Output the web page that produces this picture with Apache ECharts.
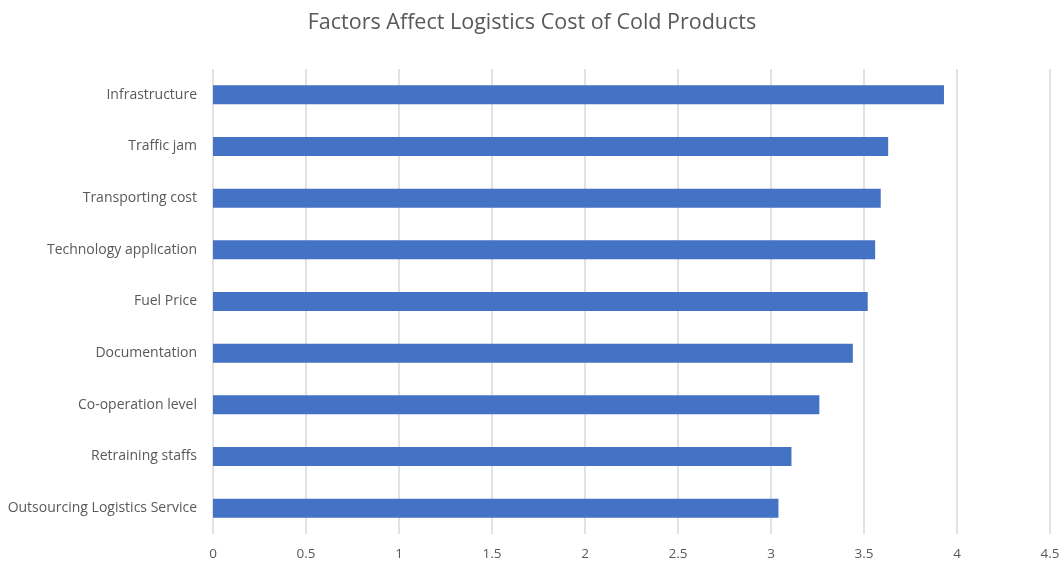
<!DOCTYPE html>
<html><head><meta charset="utf-8">
<script src="https://cdn.jsdelivr.net/npm/echarts@6/dist/echarts.min.js"></script>
<style>html,body{margin:0;padding:0;background:#fff}#c{width:1064px;height:563px}</style>
</head><body><div id="c"></div>
<script>
const categories = ["Outsourcing Logistics Service","Retraining staffs","Co-operation level","Documentation","Fuel Price","Technology application","Transporting cost","Traffic jam","Infrastructure"];
const values = [3.04, 3.11, 3.26, 3.44, 3.52, 3.56, 3.59, 3.63, 3.93];
const titleText = "Factors Affect Logistics Cost of Cold Products";
const chart = echarts.init(document.getElementById('c'));
chart.setOption({
  animation: false,
  backgroundColor: '#fff',
  title: { text: titleText, left: 'center', top: 7, textStyle: { fontFamily: 'Open Sans', fontSize: 21.5, fontWeight: 'normal', color: '#595959' } },
  grid: { left: 213, right: 14, top: 69, bottom: 29, containLabel: false },
  xAxis: { type: 'value', min: 0, max: 4.5, interval: 0.5,
    axisLine: { show: false }, axisTick: { show: false },
    splitLine: { lineStyle: { color: '#d9d9d9', width: 1.5 } },
    axisLabel: { color: '#595959', fontFamily: 'Open Sans', fontSize: 13.5, margin: 13 } },
  yAxis: { type: 'category', data: categories,
    axisLine: { show: false }, axisTick: { show: false },
    axisLabel: { color: '#595959', fontFamily: 'Open Sans', fontSize: 14, margin: 16 } },
  series: [{ type: 'bar', data: values, barWidth: 19, itemStyle: { color: '#4472C4' } }]
});
</script></body></html>
